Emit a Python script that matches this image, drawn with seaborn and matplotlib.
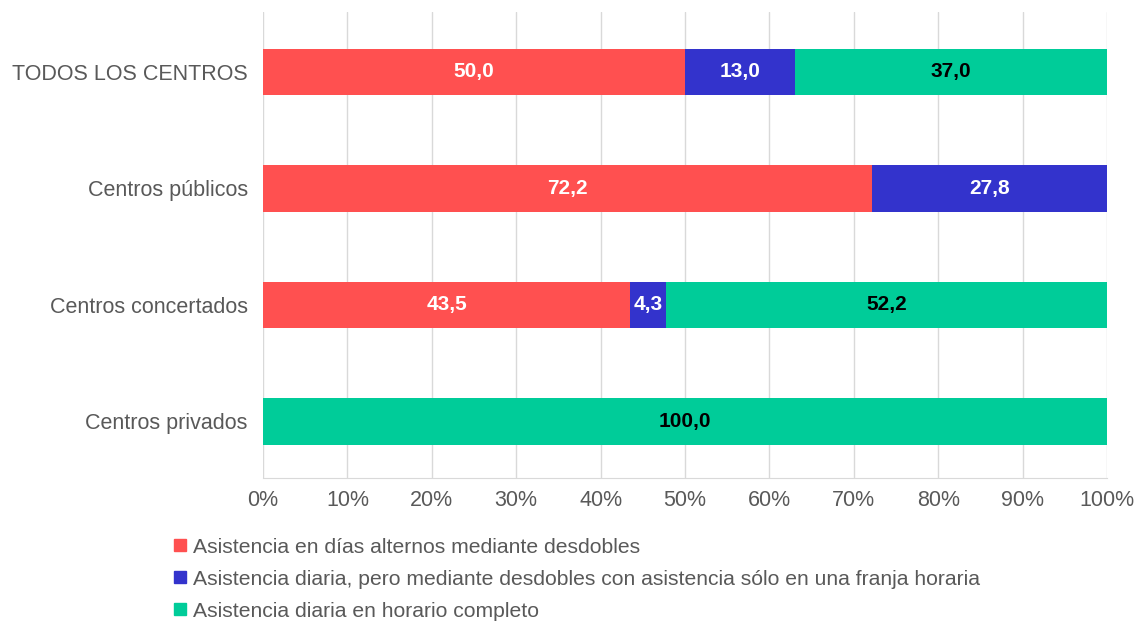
import matplotlib
matplotlib.use('Agg')
import matplotlib.pyplot as plt
import pandas as pd
import seaborn as sns
from matplotlib.lines import Line2D

# datos (porcentajes por tipo de centro)
centros = ['TODOS LOS CENTROS', 'Centros públicos', 'Centros concertados', 'Centros privados']
alternos = [50.0, 72.2, 43.5, 0.0]
franja = [13.0, 27.8, 4.3, 0.0]
completo = [37.0, 0.0, 52.2, 100.0]
series = ['Asistencia en días alternos mediante desdobles',
          'Asistencia diaria, pero mediante desdobles con asistencia sólo en una franja horaria',
          'Asistencia diaria en horario completo']
colores = ['#FF5050', '#3333CC', '#00CC99']

df = pd.DataFrame({'centro': centros, 'alternos': alternos, 'franja': franja, 'completo': completo})
df['c1'] = df['alternos']
df['c2'] = df['alternos'] + df['franja']
df['c3'] = df['c2'] + df['completo']

sns.set_style('white')
plt.rcParams['font.family'] = ['Liberation Sans', 'DejaVu Sans']

fig = plt.figure(figsize=(11.37, 6.21), dpi=100)
ax = fig.add_axes([0.2313, 0.2303, 0.7423, 0.7504])

# barras apiladas: se dibujan los acumulados de mayor a menor
for col, color in zip(['c3', 'c2', 'c1'], colores[::-1]):
    sns.barplot(data=df, x=col, y='centro', color=color, width=0.4,
                saturation=1, ax=ax, zorder=3, linewidth=0)

ax.set_ylim(3.485, -0.515)
ax.set_xlim(0, 100)
ax.set_xticks(range(0, 101, 10))
ax.set_xticklabels([f'{v}%' for v in range(0, 101, 10)])
ax.set_xlabel('')
ax.set_ylabel('')
ax.grid(axis='x', color='#D9D9D9', linewidth=1, zorder=0)
for s in ['top', 'right', 'left']:
    ax.spines[s].set_visible(False)
ax.spines['bottom'].set_color('#D9D9D9')
ax.tick_params(axis='both', length=0, labelsize=15.5, labelcolor='#595959', pad=9)
ax.tick_params(axis='y', pad=11)

# etiquetas de valores
for i, row in df.iterrows():
    partes = [(row['alternos'], 0, 'white'),
              (row['franja'], row['alternos'], 'white'),
              (row['completo'], row['c2'], 'black')]
    for val, start, tc in partes:
        if val > 0:
            ax.text(start + val / 2, i, f'{val:.1f}'.replace('.', ','), ha='center', va='center',
                    color=tc, fontsize=15, fontweight='bold', zorder=5)

handles = [Line2D([], [], marker='s', linestyle='', markersize=8, color=c) for c in colores]
fig.legend(handles, series, loc='upper left', bbox_to_anchor=(0.142, 0.148), frameon=False,
           fontsize=15.2, labelcolor='#595959', handletextpad=0.1, labelspacing=0.62,
           handlelength=1.0, borderaxespad=0)

fig.savefig('out.png', dpi=100)
